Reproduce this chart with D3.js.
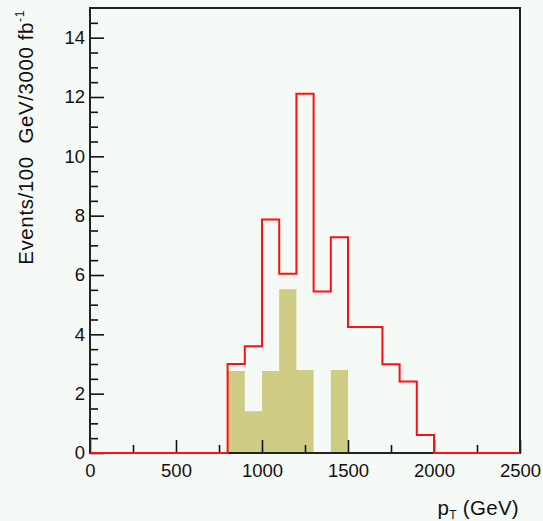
<!DOCTYPE html>
<html>
<head>
<meta charset="utf-8">
<script src="https://cdn.jsdelivr.net/npm/d3@7"></script>
<style>
  html, body { margin: 0; padding: 0; background: #f6faf6; }
  svg { display: block; }
  text { font-family: "Liberation Sans", Arial, Helvetica, sans-serif; fill: #111; }
</style>
</head>
<body>
<script>
// ---- data ----
const binLow = [800, 900, 1000, 1100, 1200, 1300, 1400, 1500, 1600, 1700, 1800, 1900];
const binWidth = 100;
const totalEvents = [3.0, 3.6, 7.87, 6.04, 12.11, 5.44, 7.27, 4.25, 4.25, 2.99, 2.41, 0.61];
const signalEvents = [2.76, 1.41, 2.76, 5.52, 2.8, 0, 2.8, 0, 0, 0, 0, 0];
const xMajorTicks = [0, 500, 1000, 1500, 2000, 2500];
const xMinorTicks = [250, 750, 1250, 1750, 2250];
const yMajorTicks = [0, 2, 4, 6, 8, 10, 12, 14];
const yMinorTicks = [0.5, 1, 1.5, 2.5, 3, 3.5, 4.5, 5, 5.5, 6.5, 7, 7.5, 8.5, 9, 9.5, 10.5, 11, 11.5, 12.5, 13, 13.5, 14.5];
const xDomain = [0, 2500];
const yDomain = [0, 15];
const xTitle = "p";
const xTitleSub = "T";
const xTitleRest = " (GeV)";
const yTitle = "Events/100 GeV/3000 fb";
const yTitleSup = "-1";

// ---- layout ----
const W = 543, H = 521;
const L = 90, R = 520, T = 8, B = 453;

const svg = d3.select("body").append("svg").attr("width", W).attr("height", H);
svg.append("rect").attr("width", W).attr("height", H).attr("fill", "#f6faf6");

const x = d3.scaleLinear().domain(xDomain).range([L, R]);
const y = d3.scaleLinear().domain(yDomain).range([B, T]);

// signal filled histogram as one closed step path (no seams)
const sig = [[binLow[0], 0]];
binLow.forEach((b, i) => {
  sig.push([b, signalEvents[i]]);
  sig.push([b + binWidth, signalEvents[i]]);
});
sig.push([binLow[binLow.length - 1] + binWidth, 0]);
svg.append("path")
  .attr("d", d3.line().x(d => x(d[0])).y(d => y(d[1]))(sig) + "Z")
  .attr("fill", "#cfcc85").attr("stroke", "none");

// axes
const fs = 18.5;
const yAxisMajor = d3.axisLeft(y).tickValues(yMajorTicks).tickSize(-14).tickPadding(5).tickFormat(d3.format("d"));
const yAxisMinor = d3.axisLeft(y).tickValues(yMinorTicks).tickSize(-8).tickFormat("");
const xAxisMajor = d3.axisBottom(x).tickValues(xMajorTicks).tickSize(-13).tickPadding(11).tickFormat(d3.format("d"));
const xAxisMinor = d3.axisBottom(x).tickValues(xMinorTicks).tickSize(-8).tickFormat("");

function styleAxis(g) {
  g.select(".domain").remove();
  g.selectAll("line").attr("stroke", "#111").attr("stroke-width", 1.6);
  g.selectAll("text").attr("font-size", fs).attr("font-family", '"Liberation Sans", Arial, sans-serif').attr("fill", "#222");
}
svg.append("g").attr("transform", `translate(${L},0)`).call(yAxisMajor).call(styleAxis);
svg.append("g").attr("transform", `translate(${L},0)`).call(yAxisMinor).call(styleAxis);
svg.append("g").attr("transform", `translate(0,${B})`).call(xAxisMajor).call(styleAxis);
svg.append("g").attr("transform", `translate(0,${B})`).call(xAxisMinor).call(styleAxis);

// frame
svg.append("rect").attr("x", L).attr("y", T).attr("width", R - L).attr("height", B - T)
  .attr("fill", "none").attr("stroke", "#222").attr("stroke-width", 2);

// total histogram outline
const pts = [[xDomain[0], 0]];
binLow.forEach((b, i) => {
  const prev = pts[pts.length - 1][1];
  pts.push([b, prev]);
  pts.push([b, totalEvents[i]]);
  pts.push([b + binWidth, totalEvents[i]]);
});
const lastEdge = binLow[binLow.length - 1] + binWidth;
pts.push([lastEdge, 0]);
pts.push([xDomain[1], 0]);
svg.append("path")
  .attr("d", d3.line().x(d => x(d[0])).y(d => y(d[1]))(pts))
  .attr("fill", "none").attr("stroke", "#ff1010").attr("stroke-width", 2)
  .attr("stroke-linejoin", "miter");

// axis titles
const tfs = 20.5;
const xt = svg.append("text").attr("x", R - 1).attr("y", 515).attr("text-anchor", "end")
  .attr("font-size", tfs).attr("letter-spacing", 0.3).attr("fill", "#222");
xt.append("tspan").text(xTitle);
xt.append("tspan").attr("font-size", 12).attr("dy", 4).text(xTitleSub);
xt.append("tspan").attr("dy", -4).text(xTitleRest);

const yt = svg.append("text").attr("transform", `translate(33,${T + 2}) rotate(-90)`)
  .attr("text-anchor", "end").attr("font-size", tfs).attr("letter-spacing", 0.6)
  .attr("fill", "#222").style("white-space", "pre");
yt.append("tspan").text(yTitle.replace(" GeV", "  GeV"));
yt.append("tspan").attr("font-size", 12).attr("dy", -9).text(yTitleSup);
</script>
</body>
</html>
